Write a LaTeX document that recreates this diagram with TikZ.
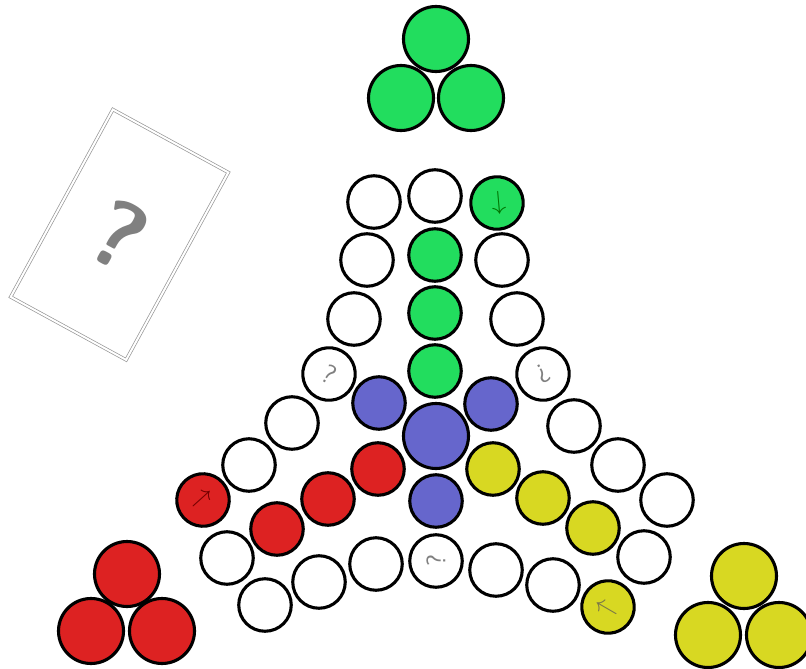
\documentclass[tikz,border=0pt]{standalone}
\usepackage{graphicx}
\usepackage{tikz}
\definecolor{ballgreen}{RGB}{34,221,94}
\definecolor{ballred}{RGB}{221,34,34}
\definecolor{ballyellow}{RGB}{216,216,34}
\definecolor{ballblue}{RGB}{102,102,204}
\definecolor{cardgray}{RGB}{150,150,150}
\newcommand{\pieceArrow}{\scalebox{2.6}{$\rightarrow$}}

\begin{document}
\begin{tikzpicture}[x=1pt, y=-1pt,
  ball/.style={circle, draw=black, line width=3.1pt, inner sep=0pt, minimum size=52.5pt},
  bigball/.style={ball, minimum size=65pt},
  hole/.style={ball, fill=white},
  quiz/.style={hole, text=gray, font=\fontsize{27}{27}\selectfont\sffamily},
  card/.style={draw=cardgray, line width=0.7pt, double=white, double distance=2pt,
    minimum width=131.5pt, minimum height=213.5pt, inner sep=0pt,
    text=gray, font=\fontsize{95}{95}\selectfont\sffamily\bfseries}]
\useasboundingbox (0,0) rectangle (806,669);

% the card
\node[card, rotate=-28.6] (card) at (119.5,234.7) {?};

% reserve triples
\node[bigball, fill=ballgreen] (gtop) at (436,39) {};
\node[bigball, fill=ballgreen] (gleft) at (401,98) {};
\node[bigball, fill=ballgreen] (gright) at (471,98) {};
\node[bigball, fill=ballred] (rtop) at (127,574) {};
\node[bigball, fill=ballred] (rleft) at (91,631) {};
\node[bigball, fill=ballred] (rright) at (162,631) {};
\node[bigball, fill=ballyellow] (ytop) at (744,576) {};
\node[bigball, fill=ballyellow] (yleft) at (708,635) {};
\node[bigball, fill=ballyellow] (yright) at (779,635) {};

% green arm
\node[hole] (w1) at (374,202) {};
\node[hole] (w2) at (435,196) {};
\node[ball, fill=ballgreen, text=green!45!black, rotate=-85] (g1) at (497,203) {\pieceArrow};
\node[hole] (w3) at (367,260) {};
\node[ball, fill=ballgreen] (g2) at (435,255) {};
\node[hole] (w4) at (502,260) {};
\node[hole] (w5) at (354,319) {};
\node[ball, fill=ballgreen] (g3) at (435,313) {};
\node[hole] (w6) at (517,319) {};
\node[quiz, rotate=-30] (q1) at (329,374) {?};
\node[ball, fill=ballgreen] (g4) at (435,371) {};
\node[quiz, rotate=210] (q2) at (543,374) {?};

% centre
\node[ball, fill=ballblue] (b1) at (379,403) {};
\node[ball, fill=ballblue] (b2) at (491,404) {};
\node[bigball, fill=ballblue] (bc) at (436,436) {};
\node[ball, fill=ballblue] (b3) at (436,501) {};

% red arm
\node[hole] (w7) at (292,423) {};
\node[hole] (w8) at (249,465) {};
\node[ball, fill=ballred, text=red!45!black, rotate=42] (r1) at (203,500) {\pieceArrow};
\node[ball, fill=ballred] (r2) at (378,469) {};
\node[ball, fill=ballred] (r3) at (328,499) {};
\node[ball, fill=ballred] (r4) at (277,529) {};
\node[hole] (w9) at (227,558) {};
\node[hole] (w10) at (265,605) {};
\node[hole] (w11) at (319,582) {};
\node[hole] (w12) at (376,564) {};
\node[quiz, rotate=90] (q3) at (436,561) {?};

% yellow arm
\node[hole] (w13) at (574,426) {};
\node[hole] (w14) at (618,465) {};
\node[hole] (w15) at (667,500) {};
\node[ball, fill=ballyellow] (y1) at (493,469) {};
\node[ball, fill=ballyellow] (y2) at (543,498) {};
\node[ball, fill=ballyellow] (y3) at (593,528) {};
\node[hole] (w16) at (496,570) {};
\node[hole] (w17) at (553,585) {};
\node[ball, fill=ballyellow, text=yellow!40!black, rotate=150] (y4) at (608,607) {\pieceArrow};
\node[hole] (w18) at (644,557) {};
\end{tikzpicture}
\end{document}
